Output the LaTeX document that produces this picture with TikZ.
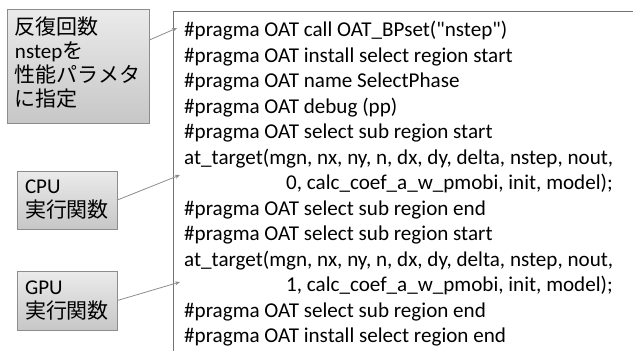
\documentclass[tikz,border=0pt]{standalone}
\usepackage{fontspec}
\setmainfont{Carlito}[Ligatures=TeXOff]
\newfontfamily\jp{Noto Sans CJK JP}
\usetikzlibrary{arrows.meta,shadows}
\tikzset{
  boxfill/.style={draw=black!45, line width=0.8pt, top color=black!8, bottom color=black!22,
    drop shadow={shadow xshift=1pt, shadow yshift=-1.2pt, opacity=0.25}},
  notebox/.style={boxfill, align=left, inner xsep=8pt, inner ysep=0pt,
    font=\fontsize{21}{24}\selectfont},
  notetext/.style={align=left, inner xsep=8pt, inner ysep=0pt,
    font=\fontsize{21}{24}\selectfont},
  pointer/.style={draw=black!45, line width=0.8pt, -{Stealth[length=5pt,width=4pt]}},
  frame/.style={draw=black!55, line width=0.8pt},
}
\begin{document}
\begin{tikzpicture}[x=1pt,y=-1pt]
\useasboundingbox (0,0) rectangle (633,351);

% annotation boxes
\node[boxfill, minimum width=142pt, minimum height=114pt] (box1) at (78,66) {};
\node[notetext, text width=126pt] (box1text) at (78,63)
  {{\jp 反復回数}\\nstep{\jp を}\\{\jp 性能パラメタ}\\{\jp に指定}};
\node[notebox, minimum width=100pt, minimum height=58pt, text width=84pt] (box2) at (67,200)
  {CPU\\{\jp 実行関数}};
\node[notebox, minimum width=100pt, minimum height=59pt, text width=84pt] (box3) at (67,300.5)
  {GPU\\{\jp 実行関数}};

% open frame around the code listing
\draw[frame] (173,351) -- (173,11.5) -- (633,11.5);

% code listing
\node[anchor=north west, align=left, inner sep=0pt,
      font=\fontsize{21.1}{25.5}\selectfont] (code) at (184,21) {%
\#pragma OAT call OAT\_BPset("nstep")\\
\#pragma OAT install select region start\\
\#pragma OAT name SelectPhase\\
\#pragma OAT debug (pp)\\
\#pragma OAT select sub region start\\
at\_target(mgn, nx, ny, n, dx, dy, delta, nstep, nout,\\
\hspace*{102pt}0, calc\_coef\_a\_w\_pmobi, init, model);\\
\#pragma OAT select sub region end\\
\#pragma OAT select sub region start\\
at\_target(mgn, nx, ny, n, dx, dy, delta, nstep, nout,\\
\hspace*{102pt}1, calc\_coef\_a\_w\_pmobi, init, model);\\
\#pragma OAT select sub region end\\
\#pragma OAT install select region end};

% arrow targets at the listing's left edge
\coordinate (t1) at (177,28);
\coordinate (t2) at (180,175);
\coordinate (t3) at (180,282);

\draw[pointer] (box1.20) -- (t1);
\draw[pointer] (box2.east) -- (t2);
\draw[pointer] (box3.east) -- (t3);
\end{tikzpicture}
\end{document}
